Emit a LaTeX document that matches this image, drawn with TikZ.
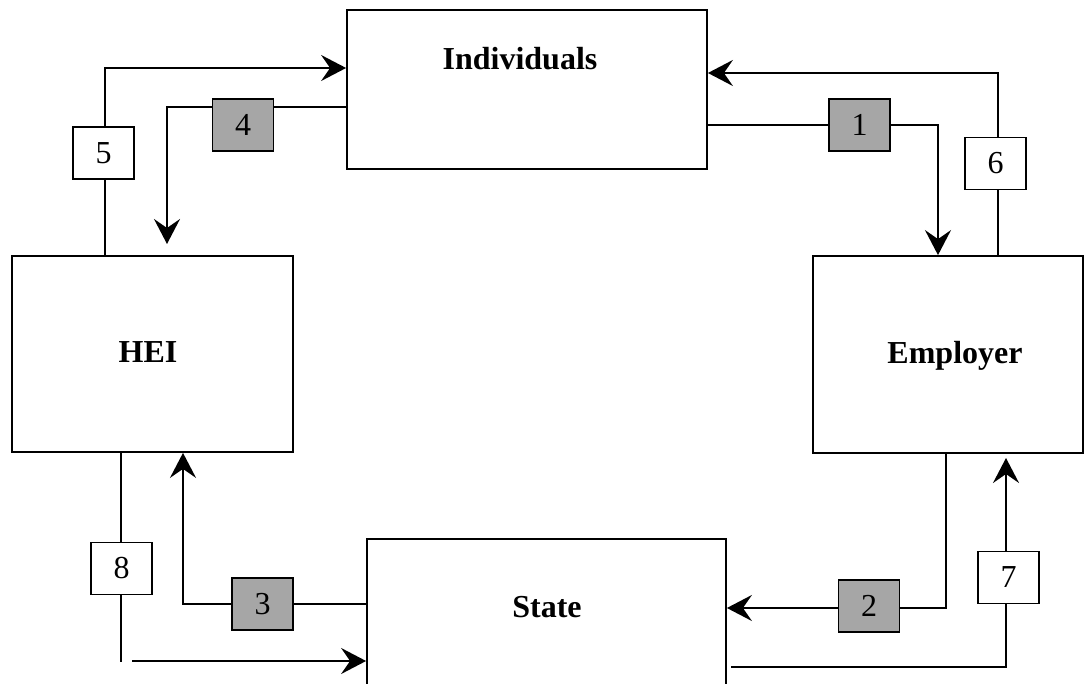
\documentclass[tikz,border=0pt]{standalone}
\usepackage{fontspec}
\setmainfont{Liberation Serif}
\usetikzlibrary{arrows.meta}
\definecolor{boxgray}{RGB}{166,166,166}
\begin{document}
\begin{tikzpicture}[x=1pt,y=-1pt,
  bigbox/.style={draw, line width=1.8pt, inner sep=0pt},
  title/.style={font=\fontsize{32}{32}\selectfont\bfseries, anchor=base, inner sep=0pt},
  numbox/.style={draw, fill=white, line width=1.8pt, minimum width=61pt, minimum height=52pt, inner sep=0pt, font=\fontsize{32}{32}\selectfont},
  graybox/.style={numbox, fill=boxgray},
  conn/.style={line width=1.8pt},
  arr/.style={conn, -{Stealth[length=25pt,width=26pt,inset=9pt]}}]
\useasboundingbox (0,0) rectangle (1085,684);
\clip (0,0) rectangle (1085,684);

% main boxes
\node[bigbox, minimum width=360pt, minimum height=159pt] (ind) at (527,89.5) {};
\node[bigbox, minimum width=281pt, minimum height=196pt] (hei) at (152.5,354) {};
\node[bigbox, minimum width=270pt, minimum height=197pt] (emp) at (948,354.5) {};
\node[bigbox, minimum width=359pt, minimum height=146pt] (sta) at (546.5,612) {};

\node[title] (tind) at (520,70) {Individuals};
\node[title] (thei) at (148,363) {HEI};
\node[title] (temp) at (955,364) {Employer};
\node[title] (tsta) at (547,617) {State};

% corner coordinates
\coordinate (c1) at (938,125);
\coordinate (c6) at (998,73);
\coordinate (c4) at (167,107);
\coordinate (c5) at (105,68);
\coordinate (c3) at (183,604);
\coordinate (c8a) at (121,662);
\coordinate (c8b) at (132,661);
\coordinate (c2) at (946,608);
\coordinate (c7a) at (731,667);
\coordinate (c7b) at (1006,667);
\coordinate (t4) at (167,244);
\coordinate (t7) at (1006,458);

% connectors
\draw[arr] (ind.east |- c1) -- (c1) -- (c1 |- emp.north);
\draw[arr] (c6 |- emp.north) -- (c6) -- (c6 -| ind.east);
\draw[arr] (ind.west |- c4) -- (c4) -- (t4);
\draw[arr] (c5 |- hei.north) -- (c5) -- (c5 -| ind.west);
\draw[arr] (sta.west |- c3) -- (c3) -- (c3 |- hei.south);
\draw[conn] (c8a |- hei.south) -- (c8a);
\draw[arr] (c8b) -- (c8b -| sta.west);
\draw[arr] (c2 |- emp.south) -- (c2) -- (c2 -| sta.east);
\draw[arr] (c7a) -- (c7b) -- (t7);

% number boxes
\node[graybox] (n1) at (859.5,125) {1};
\node[graybox] (n2) at (869,606) {2};
\node[graybox] (n3) at (262.5,604) {3};
\node[graybox] (n4) at (243,125) {4};
\node[numbox] (n5) at (103.5,153) {5};
\node[numbox] (n6) at (995.5,163.5) {6};
\node[numbox] (n7) at (1008.5,577.5) {7};
\node[numbox] (n8) at (121.5,568.5) {8};
\end{tikzpicture}
\end{document}
